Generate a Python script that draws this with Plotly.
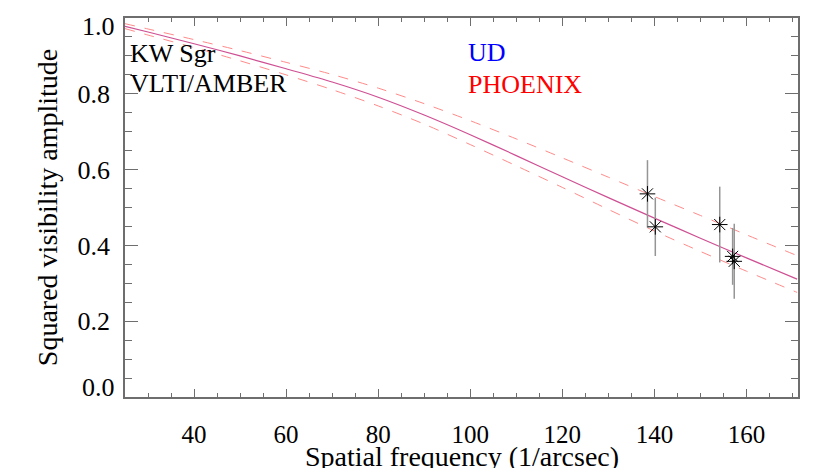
import plotly.graph_objects as go

# model curves (spatial frequency in 1/arcsec -> V^2)
model_freq = [25, 30, 40, 50, 60, 70, 80, 90, 100, 110, 120, 130, 140, 150, 160, 171]
model_mid = [0.978, 0.963, 0.932, 0.900, 0.866, 0.831, 0.791, 0.744, 0.692,
             0.637, 0.581, 0.526, 0.472, 0.419, 0.367, 0.311]
model_upper = [0.985, 0.971, 0.943, 0.914, 0.883, 0.851, 0.815, 0.774, 0.729,
               0.681, 0.631, 0.580, 0.529, 0.479, 0.428, 0.373]
model_lower = [0.972, 0.955, 0.922, 0.887, 0.850, 0.811, 0.768, 0.720, 0.666,
               0.610, 0.553, 0.495, 0.438, 0.384, 0.332, 0.276]

# AMBER measurements
obs_freq = [138.5, 140.2, 154.2, 157.0, 157.35]
obs_v2 = [0.536, 0.449, 0.455, 0.371, 0.358]
obs_err = [0.089, 0.077, 0.100, 0.075, 0.099]

font_name = "Liberation Serif"
axis_grey = "#6e6e6e"

fig = go.Figure()

for ys in (model_upper, model_lower):
    fig.add_trace(go.Scatter(
        x=model_freq, y=ys, mode="lines", line_shape="spline",
        line=dict(color="#ff8a8a", width=1, dash="10px,10px", smoothing=0.8),
        hoverinfo="skip"))

fig.add_trace(go.Scatter(
    x=model_freq, y=model_mid, mode="lines", line_shape="spline",
    line=dict(color="#cf4f93", width=1.2, smoothing=0.8), hoverinfo="skip"))

fig.add_trace(go.Scatter(
    x=obs_freq, y=obs_v2, mode="markers",
    marker=dict(symbol="asterisk-open", size=13, color="black",
                line=dict(color="#222222", width=1)),
    error_y=dict(type="data", array=obs_err, visible=True,
                 color="#959595", thickness=1.5, width=0)))

notes = [
    (25.6, 0.907, "KW Sgr", "black"),
    (25.6, 0.828, "VLTI/AMBER", "black"),
    (99.0, 0.908, "UD", "blue"),
    (99.0, 0.825, "PHOENIX", "red"),
]
for x, y, txt, col in notes:
    fig.add_annotation(x=x, y=y, xref="x", yref="y", text=txt, showarrow=False,
                       xanchor="left", yanchor="middle",
                       font=dict(family=font_name, size=26, color=col))

# end labels of the y axis sit slightly inside the frame
fig.add_annotation(x=0, y=0.977, xref="paper", yref="y", text="1.0", showarrow=False,
                   xanchor="right", yanchor="middle", xshift=-8,
                   font=dict(family=font_name, size=26, color="black"))
fig.add_annotation(x=0, y=0.025, xref="paper", yref="y", text="0.0", showarrow=False,
                   xanchor="right", yanchor="middle", xshift=-8,
                   font=dict(family=font_name, size=26, color="black"))

# x title, placed by hand so it sits where the reference has it
fig.add_annotation(x=0.5, y=-0.158, xref="paper", yref="paper",
                   text="Spatial frequency (1/arcsec)", showarrow=False,
                   xanchor="center", yanchor="middle",
                   font=dict(family=font_name, size=28, color="black"))

fig.update_xaxes(
    range=[25, 171.2], tick0=0, dtick=20, ticks="inside", ticklen=8, tickwidth=1,
    tickcolor=axis_grey, showline=True, linecolor=axis_grey, linewidth=1.5,
    mirror="ticks", showgrid=False, zeroline=False, ticklabelstandoff=14,
    automargin=False,
    minor=dict(dtick=5, ticks="inside", ticklen=4, tickcolor=axis_grey, showgrid=False),
    tickfont=dict(family=font_name, size=25, color="black"))

fig.update_yaxes(
    range=[0, 1], tickvals=[0, 0.2, 0.4, 0.6, 0.8, 1.0],
    ticktext=["", "0.2", "0.4", "0.6", "0.8", ""],
    ticks="inside", ticklen=13, tickwidth=1,
    tickcolor=axis_grey, showline=True, linecolor=axis_grey, linewidth=1.5,
    mirror="ticks", showgrid=False, zeroline=False, ticklabelstandoff=8,
    automargin=False,
    minor=dict(dtick=0.05, ticks="inside", ticklen=7, tickcolor=axis_grey, showgrid=False),
    tickfont=dict(family=font_name, size=26, color="black"),
    title=dict(text="Squared visibility amplitude", standoff=12,
               font=dict(family=font_name, size=28, color="black")))

# the page adds an 8px body margin, so the frame is offset accordingly
fig.update_layout(
    width=830, height=468, showlegend=False,
    paper_bgcolor="white", plot_bgcolor="white",
    margin=dict(l=117, r=40, t=10, b=79),
)

fig.write_html("out.html")
